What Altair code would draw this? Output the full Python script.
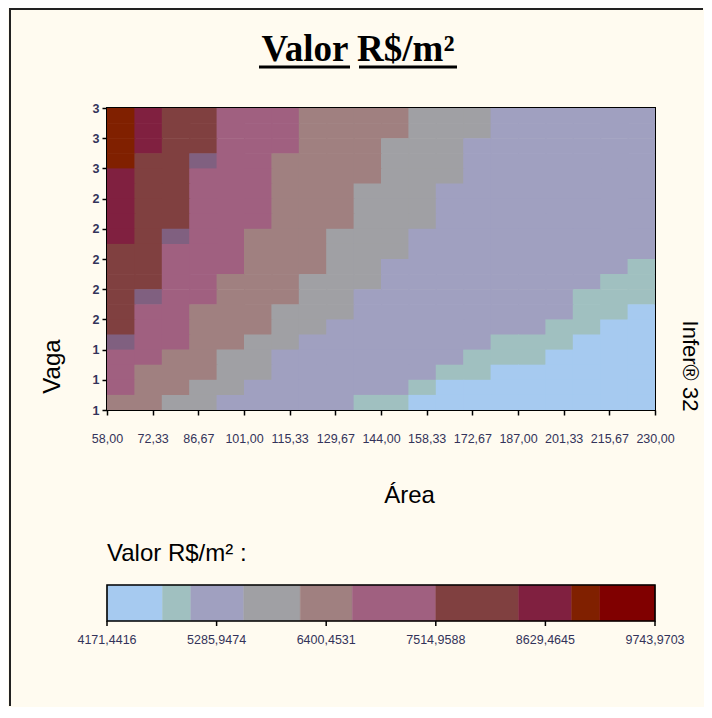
import altair as alt
import pandas as pd

# ---------------- data ----------------
TITLE = "Valor R$/m²"
X_TITLE = "Área"
Y_TITLE = "Vaga"
LEGEND_TITLE = "Valor R$/m² :"
WATERMARK = "Infer® 32"

x_min, x_max = 58.0, 230.0
y_min, y_max = 1.0, 3.0
n_cols, n_rows = 20, 20

x_ticks = [58.0, 72.3333, 86.6667, 101.0, 115.3333, 129.6667, 144.0,
           158.3333, 172.6667, 187.0, 201.3333, 215.6667, 230.0]
y_ticks = [1.0, 1.2, 1.4, 1.6, 1.8, 2.0, 2.2, 2.4, 2.6, 2.8, 3.0]

# colour classes (0 = lowest value ... 9 = highest, x = blended cell)
class_codes = ["0", "1", "2", "3", "4", "5", "6", "7", "8", "9", "x"]
class_colors = ["#A6CAF0", "#A0C0C0", "#A0A0C0", "#A0A0A4", "#A08080",
                "#A06080", "#804040", "#802040", "#802000", "#800000",
                "#806080"]

# grid of classes, top row (Vaga = 3) first, columns from Área 58 to 230
grid_rows = [
    "87665554444333222222",
    "87665554444333222222",
    "87665554443332222222",
    "866x5544443332222222",
    "76655544443332222222",
    "76655544433322222222",
    "76655544433322222222",
    "76655544433322222222",
    "76x55444333222222222",
    "66555444333222222222",
    "66555444332222222221",
    "66554443332222222211",
    "6x554443322222222111",
    "65544433322222222110",
    "65544433222222221100",
    "x5544332222222111000",
    "55443322222221110000",
    "54443322222211000000",
    "54433222222100000000",
    "44332222211000000000",
]

legend_breaks = [4171.4416, 4736.6, 5023.7, 5562.4, 6136.4, 6666.3,
                 7514.9588, 8357.4, 8896.1, 9183.2, 9743.9703]
legend_ticks = [4171.4416, 5285.9474, 6400.4531, 7514.9588, 8629.4645, 9743.9703]
legend_labels = ["4171,4416", "5285,9474", "6400,4531", "7514,9588",
                 "8629,4645", "9743,9703"]

# ---------------- tables ----------------
dx = (x_max - x_min) / n_cols
dy = (y_max - y_min) / n_rows
cells = []
for r, row in enumerate(grid_rows):
    for c, ch in enumerate(row):
        x0 = x_min + c * dx
        y1 = y_max - r * dy
        # tiny overlap towards the next cell hides anti-aliasing seams
        x1 = min(x0 + dx * 1.04, x_max)
        y0 = max(y1 - dy * 1.04, y_min)
        cells.append({"x0": x0, "x1": x1, "y0": y0, "y1": y1,
                      "color": class_colors[class_codes.index(ch)]})
cells_df = pd.DataFrame(cells)

leg_df = pd.DataFrame({"lo": legend_breaks[:-1], "hi": legend_breaks[1:],
                       "color": class_colors[:10]})
leg_tick_df = pd.DataFrame({"v": legend_ticks, "label": legend_labels})
leg_frame_df = pd.DataFrame({"lo": [legend_ticks[0]], "hi": [legend_ticks[-1]]})

LABEL_COLOR = "#33335a"
SANS = "Liberation Sans"

# ---------------- heatmap ----------------
heat = alt.Chart(cells_df).mark_rect(strokeWidth=0).encode(
    x=alt.X("x0:Q", scale=alt.Scale(domain=[x_min, x_max], nice=False, zero=False),
            axis=alt.Axis(values=x_ticks,
                          labelExpr="replace(format(datum.value, '.2f'), '.', ',')",
                          title=X_TITLE, titleX=302, titleY=92,
                          titleAlign="center", titleBaseline="alphabetic",
                          titleFont=SANS, titleFontSize=24, titleFontWeight="normal",
                          titleColor="black",
                          labelFont=SANS, labelFontSize=12.5, labelColor=LABEL_COLOR,
                          labelPadding=17, labelOverlap=False, labelFlush=False,
                          tickSize=5, tickColor="black", tickWidth=1.5,
                          domain=False, grid=False)),
    x2="x1:Q",
    y=alt.Y("y0:Q", scale=alt.Scale(domain=[y_min, y_max], nice=False, zero=False),
            axis=alt.Axis(values=y_ticks,
                          labelExpr="format(datum.value, '.0f')",
                          title=Y_TITLE, titleX=-55, titleY=258, titleAngle=-90,
                          titleAlign="center", titleBaseline="middle",
                          titleFont=SANS, titleFontSize=24, titleFontWeight="normal",
                          titleColor="black",
                          labelFont=SANS, labelFontSize=12.5, labelFontWeight="bold",
                          labelColor=LABEL_COLOR, labelPadding=3,
                          labelOverlap=False, labelFlush=False,
                          tickSize=5, tickColor="black", tickWidth=1.5,
                          domain=False, grid=False)),
    y2="y1:Q",
    color=alt.Color("color:N", scale=None),
)

# ---------------- colour legend ----------------
leg_scale = alt.Scale(domain=[legend_ticks[0], legend_ticks[-1]], nice=False, zero=False)
leg_rect = alt.Chart(leg_df).mark_rect(strokeWidth=0.5).encode(
    x=alt.X("lo:Q", scale=leg_scale, axis=None), x2="hi:Q",
    y=alt.value(477), y2=alt.value(513),
    color=alt.Color("color:N", scale=None),
    stroke=alt.Stroke("color:N", scale=None),
)
leg_frame = alt.Chart(leg_frame_df).mark_rect(fillOpacity=0, stroke="black", strokeWidth=1.6).encode(
    x=alt.X("lo:Q", scale=leg_scale, axis=None), x2="hi:Q",
    y=alt.value(477), y2=alt.value(513),
)
leg_ticks = alt.Chart(leg_tick_df).mark_rule(color="black", strokeWidth=1.5).encode(
    x=alt.X("v:Q", scale=leg_scale, axis=None),
    y=alt.value(513), y2=alt.value(518),
)
leg_labels = alt.Chart(leg_tick_df).mark_text(
    font=SANS, fontSize=12.5, color=LABEL_COLOR, baseline="middle", align="center"
).encode(
    x=alt.X("v:Q", scale=leg_scale, axis=None),
    y=alt.value(532),
    text="label:N",
)
legend = alt.layer(leg_rect, leg_frame, leg_ticks, leg_labels)

# ---------------- texts ----------------
one = pd.DataFrame({"t": [0]})
title_text = alt.Chart(one).mark_text(
    font="Liberation Serif", fontSize=37, fontWeight="bold", color="black",
    align="center", baseline="alphabetic"
).encode(x=alt.value(251), y=alt.value(-47), text=alt.value(TITLE))
underline_a = alt.Chart(one).mark_rule(color="black", strokeWidth=3).encode(
    x=alt.value(152), x2=alt.value(243), y=alt.value(-41))
underline_b = alt.Chart(one).mark_rule(color="black", strokeWidth=3).encode(
    x=alt.value(252), x2=alt.value(350), y=alt.value(-41))
legend_title = alt.Chart(one).mark_text(
    font=SANS, fontSize=24, color="black", align="left", baseline="alphabetic"
).encode(x=alt.value(0), y=alt.value(453), text=alt.value(LEGEND_TITLE))
watermark = alt.Chart(one).mark_text(
    font=SANS, fontSize=22, color="black", align="center", baseline="middle", angle=90
).encode(x=alt.value(583), y=alt.value(258), text=alt.value(WATERMARK))
frame_left = alt.Chart(one).mark_rule(color="#222222", strokeWidth=2).encode(
    x=alt.value(-97), y=alt.value(-99), y2=alt.value(598))
frame_top = alt.Chart(one).mark_rule(color="#222222", strokeWidth=2).encode(
    x=alt.value(-98), x2=alt.value(596), y=alt.value(-99))

chart = alt.layer(
    heat, legend, title_text, underline_a, underline_b, legend_title,
    watermark, frame_left, frame_top
).resolve_scale(x="independent").properties(
    width=548, height=302, padding=0, background="#FFFBF0"
).configure_view(stroke="black", strokeWidth=2)

chart.save("out.html", embed_options={"renderer": "svg", "actions": False})
